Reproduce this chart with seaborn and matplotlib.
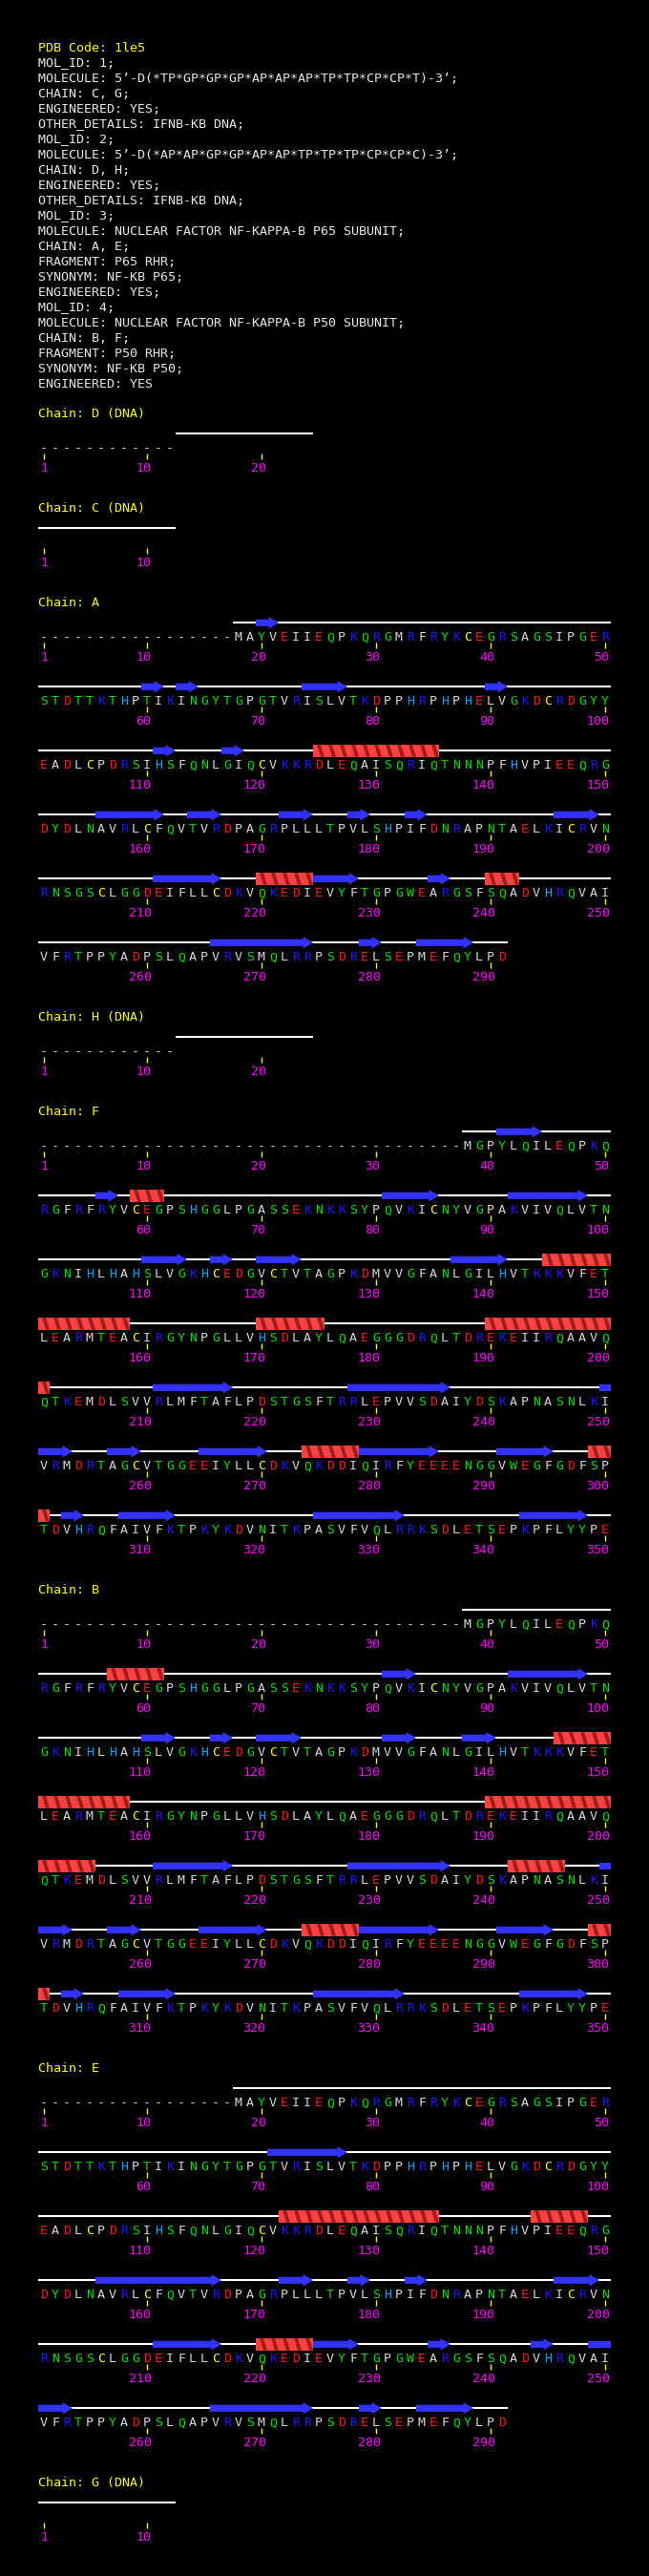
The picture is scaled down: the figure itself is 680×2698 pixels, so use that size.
import math
import matplotlib
matplotlib.use("Agg")
import matplotlib.pyplot as plt
from matplotlib.patches import Polygon
import seaborn as sns

# ---- data ----
HEADER_LINES = [
    "PDB Code: 1le5",
    "MOL_ID: 1;",
    "MOLECULE: 5’-D(*TP*GP*GP*GP*AP*AP*AP*TP*TP*CP*CP*T)-3’;",
    "CHAIN: C, G;",
    "ENGINEERED: YES;",
    "OTHER_DETAILS: IFNB-KB DNA;",
    "MOL_ID: 2;",
    "MOLECULE: 5’-D(*AP*AP*GP*GP*AP*AP*TP*TP*TP*CP*CP*C)-3’;",
    "CHAIN: D, H;",
    "ENGINEERED: YES;",
    "OTHER_DETAILS: IFNB-KB DNA;",
    "MOL_ID: 3;",
    "MOLECULE: NUCLEAR FACTOR NF-KAPPA-B P65 SUBUNIT;",
    "CHAIN: A, E;",
    "FRAGMENT: P65 RHR;",
    "SYNONYM: NF-KB P65;",
    "ENGINEERED: YES;",
    "MOL_ID: 4;",
    "MOLECULE: NUCLEAR FACTOR NF-KAPPA-B P50 SUBUNIT;",
    "CHAIN: B, F;",
    "FRAGMENT: P50 RHR;",
    "SYNONYM: NF-KB P50;",
    "ENGINEERED: YES",
]

P65_SEQ = ("MAYVEIIEQPKQRGMRFRYKCEGRSAGSIPGER"
           "STDTTKTHPTIKINGYTGPGTVRISLVTKDPPHRPHPHELVGKDCRDGYY"
           "EADLCPDRSIHSFQNLGIQCVKKRDLEQAISQRIQTNNNPFHVPIEEQRG"
           "DYDLNAVRLCFQVTVRDPAGRPLLLTPVLSHPIFDNRAPNTAELKICRVN"
           "RNSGSCLGGDEIFLLCDKVQKEDIEVYFTGPGWEARGSFSQADVHRQVAI"
           "VFRTPPYADPSLQAPVRVSMQLRRPSDRELSEPMEFQYLPD")
P50_SEQ = ("MGPYLQILEQPKQ"
           "RGFRFRYVCEGPSHGGLPGASSEKNKKSYPQVKICNYVGPAKVIVQLVTN"
           "GKNIHLHAHSLVGKHCEDGVCTVTAGPKDMVVGFANLGILHVTKKKVFET"
           "LEARMTEACIRGYNPGLLVHSDLAYLQAEGGGDRQLTDREKEIIRQAAVQ"
           "QTKEMDLSVVRLMFTAFLPDSTGSFTRRLEPVVSDAIYDSKAPNASNLKI"
           "VRMDRTAGCVTGGEEIYLLCDKVQKDDIQIRFYEEEENGGVWEGFGDFSP"
           "TDVHRQFAIVFKTPKYKDVNITKPASVFVQLRRKSDLETSEPKPFLYYPE")

CHAIN_TITLES = ["Chain: D (DNA)", "Chain: C (DNA)", "Chain: A", "Chain: H (DNA)",
                "Chain: F", "Chain: B", "Chain: E", "Chain: G (DNA)"]
CHAIN_LENGTHS = [24, 12, 291, 24, 350, 350, 291, 12]
CHAIN_FIRST = [13, 1, 18, 13, 38, 38, 18, 1]
CHAIN_SEQS = [None, None, P65_SEQ, None, P50_SEQ, P50_SEQ, P65_SEQ, None]

A_STRANDS = [(20, 21), (60, 61), (63, 64), (74, 77), (90, 91), (111, 112), (117, 118),
             (156, 161), (164, 166), (172, 174), (178, 179), (183, 184), (196, 199),
             (211, 216), (225, 228), (235, 236), (266, 274), (279, 280), (284, 288)]
A_HELICES = [(125, 135), (220, 224), (240, 242)]
F_STRANDS = [(41, 44), (56, 57), (81, 85), (92, 98), (110, 113), (116, 117), (120, 123),
             (137, 141), (211, 217), (228, 236), (250, 253), (257, 259), (265, 270),
             (279, 285), (291, 295), (303, 304), (308, 312), (325, 332), (343, 348)]
F_HELICES = [(59, 61), (145, 158), (170, 175), (190, 201), (274, 278), (299, 301)]
B_STRANDS = [(81, 83), (92, 98), (110, 112), (116, 117), (120, 123), (131, 133), (138, 140),
             (211, 217), (228, 236), (250, 253), (257, 259), (265, 270), (279, 285),
             (291, 295), (303, 304), (308, 312), (325, 332), (343, 348)]
B_HELICES = [(57, 61), (146, 158), (190, 205), (242, 246), (274, 278), (299, 301)]
E_STRANDS = [(71, 77), (156, 166), (172, 174), (178, 179), (183, 184), (196, 199),
             (211, 216), (225, 228), (235, 236), (244, 245), (249, 253), (266, 274),
             (279, 280), (284, 288)]
E_HELICES = [(122, 135), (144, 148), (220, 224)]

CHAIN_STRANDS = [[], [], A_STRANDS, [], F_STRANDS, B_STRANDS, E_STRANDS, []]
CHAIN_HELICES = [[], [], A_HELICES, [], F_HELICES, B_HELICES, E_HELICES, []]

# residue colour groups
RES_GROUPS = {"DE": "#ff1a1a", "KR": "#1a1aff", "H": "#00aaff", "C": "#ffff00",
              "STNQGYW": "#00e000", "AVLIMFP": "#d8d8d8"}

# ---- layout ----
W, H = 680, 2698
X0 = 40          # left edge of first residue cell
PITCH = 12       # residue cell width
PER_ROW = 50
ROW_DY = 67
FONT = ["DejaVu Sans Mono"]
FS = 9.6

sns.set_theme(style="dark", rc={"axes.facecolor": "black", "figure.facecolor": "black"})
plt.rcParams["font.family"] = FONT

fig = plt.figure(figsize=(W / 100, H / 100), dpi=100)
ax = fig.add_axes([0, 0, 1, 1])
ax.set_xlim(0, W)
ax.set_ylim(H, 0)
ax.axis("off")


def res_color(c):
    for k, v in RES_GROUPS.items():
        if c in k:
            return v
    return "#d8d8d8"


def cell_left(i):
    return X0 + ((i - 1) % PER_ROW) * PITCH


def draw_strand(a, b, yc, head):
    xs = cell_left(a)
    xe = cell_left(b) + PITCH
    if head:
        hl = 10.5
        pts = [(xs, yc - 3.6), (xe - hl, yc - 3.6), (xe - hl, yc - 6.3), (xe, yc),
               (xe - hl, yc + 6.3), (xe - hl, yc + 3.6), (xs, yc + 3.6)]
    else:
        pts = [(xs, yc - 3.6), (xe, yc - 3.6), (xe, yc + 3.6), (xs, yc + 3.6)]
    ax.add_patch(Polygon(pts, closed=True, fc="#3333ff", ec="none", zorder=3))


def draw_helix(a, b, yc):
    xs = cell_left(a)
    xe = cell_left(b) + PITCH
    top, bot = yc - 6.5, yc + 6.5
    ax.add_patch(Polygon([(xs, top), (xe, top), (xe, bot), (xs, bot)], closed=True,
                         fc="#ff4040", ec="none", zorder=3))
    for i in range(a, b + 1):
        x = cell_left(i)
        ax.add_patch(Polygon([(x + 4, top), (x + 8, top), (x + 12, bot), (x + 8, bot)],
                             closed=True, fc="#9a1e1e", ec="none", zorder=4))


# header
for n, line in enumerate(HEADER_LINES):
    ax.text(X0, 53.5 + 16 * n, line, color="#ffff00" if n == 0 else "#e8e8e8",
            fontsize=FS, va="baseline", ha="left")

label_y = 432.3
for ci, title in enumerate(CHAIN_TITLES):
    length = CHAIN_LENGTHS[ci]
    first = CHAIN_FIRST[ci]
    seq = CHAIN_SEQS[ci]
    nrows = math.ceil(length / PER_ROW)
    ax.text(X0, label_y + 5, title, color="#ffff00", fontsize=FS, va="baseline", ha="left")
    line0 = label_y + 22
    for r in range(nrows):
        ly = line0 + r * ROW_DY
        rs = r * PER_ROW + 1
        re_ = min(length, rs + PER_ROW - 1)
        # backbone line
        la = max(first, rs)
        if la <= re_:
            ax.plot([cell_left(la), cell_left(re_) + PITCH], [ly, ly], color="white",
                    lw=1.5, solid_capstyle="butt", zorder=2)
        # secondary structure
        for a, b in CHAIN_HELICES[ci]:
            sa, sb = max(a, rs), min(b, re_)
            if sa <= sb:
                draw_helix(sa, sb, ly)
        for a, b in CHAIN_STRANDS[ci]:
            sa, sb = max(a, rs), min(b, re_)
            if sa <= sb:
                draw_strand(sa, sb, ly, b <= re_)
        # residues, ticks, numbers
        for i in range(rs, re_ + 1):
            xc = cell_left(i) + PITCH / 2
            if i < first:
                ax.text(xc, ly + 19, "-", color="#d0d0d0", fontsize=FS,
                        ha="center", va="baseline")
            elif seq is not None:
                c = seq[i - first]
                ax.text(xc, ly + 19, c, color=res_color(c), fontsize=FS,
                        ha="center", va="baseline")
            if i == 1 or i % 10 == 0:
                ax.plot([xc, xc], [ly + 21, ly + 26.5], color="#ffff00", lw=1.0,
                        solid_capstyle="butt")
                ax.text(xc + 4.5, ly + 40, str(i), color="#ff00ff", fontsize=FS,
                        ha="right", va="baseline")
    label_y = line0 + (nrows - 1) * ROW_DY + 77

fig.savefig("out.png", dpi=100, facecolor="black")
